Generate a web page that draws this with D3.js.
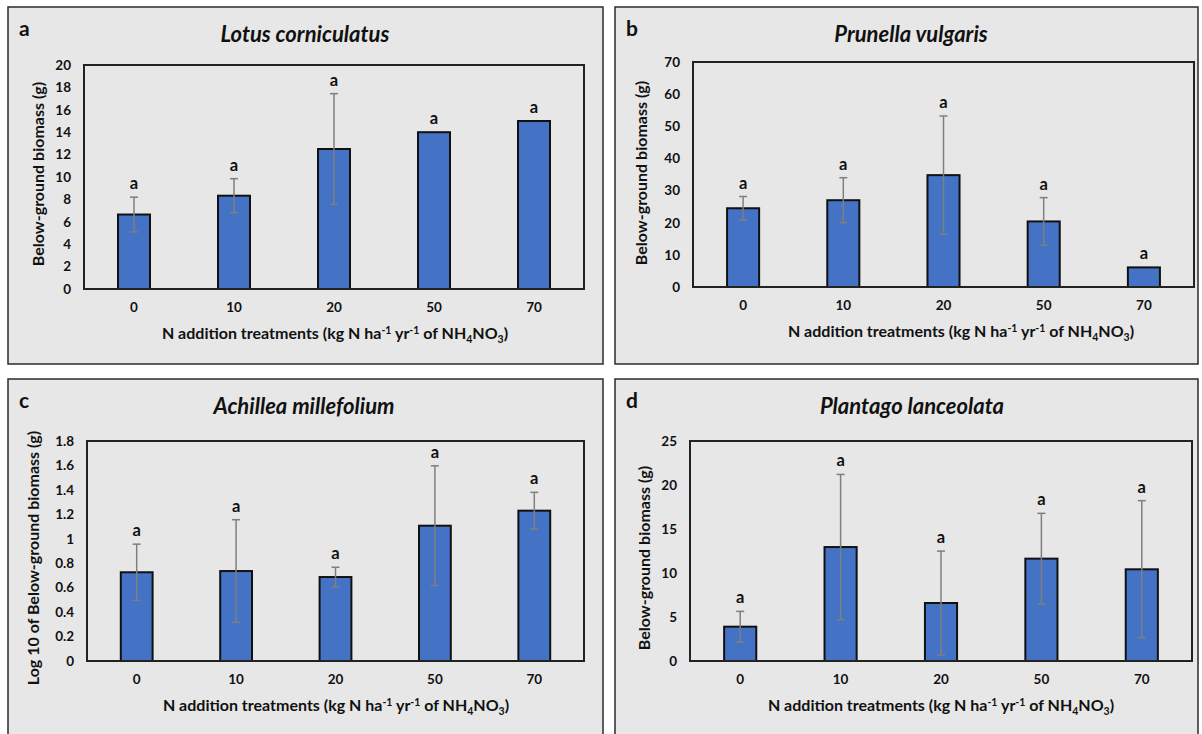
<!DOCTYPE html>
<html>
<head>
<meta charset="utf-8">
<script src="https://cdn.jsdelivr.net/npm/d3@7"></script>
<style>
  html, body { margin: 0; padding: 0; background: #ffffff; }
  svg { display: block; font-family: Lato, "Open Sans", sans-serif; }
</style>
</head>
<body>
<svg id="fig" width="1202" height="734"></svg>
<script>
// N addition treatments (kg N ha-1 yr-1)
const treatments = ["0", "10", "20", "50", "70"];

// Lotus corniculatus: below-ground biomass (g), mean and SE
const lotusMean = [6.65, 8.33, 12.5, 14.0, 15.0];
const lotusErr  = [1.55, 1.52, 4.94, 0, 0];
const lotusTicks = [0, 2, 4, 6, 8, 10, 12, 14, 16, 18, 20];

// Prunella vulgaris
const prunellaMean = [24.5, 27.0, 34.8, 20.4, 6.1];
const prunellaErr  = [3.65, 7.0, 18.4, 7.4, 0];
const prunellaTicks = [0, 10, 20, 30, 40, 50, 60, 70];

// Achillea millefolium (log10 of below-ground biomass)
const achilleaMean = [0.726, 0.736, 0.687, 1.107, 1.23];
const achilleaErr  = [0.23, 0.42, 0.08, 0.49, 0.15];
const achilleaTicks = [0, 0.2, 0.4, 0.6, 0.8, 1, 1.2, 1.4, 1.6, 1.8];

// Plantago lanceolata
const plantagoMean = [3.9, 12.95, 6.59, 11.63, 10.42];
const plantagoErr  = [1.74, 8.25, 5.9, 5.15, 7.8];
const plantagoTicks = [0, 5, 10, 15, 20, 25];

// Significance letters above each bar
const lotusLetters    = ["a", "a", "a", "a", "a"];
const prunellaLetters = ["a", "a", "a", "a", "a"];
const achilleaLetters = ["a", "a", "a", "a", "a"];
const plantagoLetters = ["a", "a", "a", "a", "a"];

const panels = [
  { tag: "a", title: "Lotus corniculatus", ylab: "Below-ground biomass (g)",
    mean: lotusMean, err: lotusErr, ticks: lotusTicks, letters: lotusLetters,
    box: [8, 7, 595, 357], plot: [84, 65, 584, 289], titleX: 305, ylabX: 44, ylabY: 174, xlabX: 335 },
  { tag: "b", title: "Prunella vulgaris", ylab: "Below-ground biomass (g)",
    mean: prunellaMean, err: prunellaErr, ticks: prunellaTicks, letters: prunellaLetters,
    box: [615, 7, 583, 357], plot: [693, 62, 1194, 287], titleX: 911, ylabX: 647, ylabY: 173, xlabX: 961 },
  { tag: "c", title: "Achillea millefolium", ylab: "Log 10 of Below-ground biomass (g)",
    mean: achilleaMean, err: achilleaErr, ticks: achilleaTicks, letters: achilleaLetters,
    box: [8, 379, 595, 370], plot: [87, 441, 584, 661], titleX: 304, ylabX: 39, ylabY: 558, xlabX: 336 },
  { tag: "d", title: "Plantago lanceolata", ylab: "Below-ground biomass (g)",
    mean: plantagoMean, err: plantagoErr, ticks: plantagoTicks, letters: plantagoLetters,
    box: [615, 379, 583, 370], plot: [690, 441, 1192, 661], titleX: 912, ylabX: 650, ylabY: 558, xlabX: 941 }
];

const svg = d3.select("#fig");
const fmt = v => String(+v.toFixed(1));

panels.forEach(p => {
  const g = svg.append("g");
  const [bx, by, bw, bh] = p.box;
  const [x0, y0, x1, y1] = p.plot;

  // panel frame
  g.append("rect").attr("x", bx).attr("y", by).attr("width", bw).attr("height", bh)
    .attr("fill", "#e7e7e7").attr("stroke", "#2b2b2b").attr("stroke-width", 1.5);

  // panel tag
  g.append("text").attr("x", bx + 11).attr("y", by + 29)
    .attr("font-size", 21).attr("font-weight", 700).attr("fill", "#111").text(p.tag);

  // species title
  g.append("text").attr("x", p.titleX).attr("y", by + 35)
    .attr("text-anchor", "middle").attr("font-size", 22).attr("font-weight", 700)
    .attr("font-style", "italic").attr("fill", "#111").text(p.title);

  const x = d3.scaleBand().domain(treatments).range([x0, x1])
    .paddingInner(0.68).paddingOuter(0.34);
  const top = p.ticks[p.ticks.length - 1];
  const y = d3.scaleLinear().domain([0, top]).range([y1, y0]);

  // y axis labels
  const ya = g.append("g").attr("transform", `translate(${x0},0)`)
    .call(d3.axisLeft(y).tickValues(p.ticks).tickSize(0).tickPadding(13).tickFormat(fmt));
  ya.select(".domain").remove();
  ya.selectAll("text").attr("font-size", 13.5).attr("font-weight", 700)
    .attr("font-family", "Lato, sans-serif").attr("fill", "#111");

  // x axis labels
  const xa = g.append("g").attr("transform", `translate(0,${y1})`)
    .call(d3.axisBottom(x).tickSize(0).tickPadding(13));
  xa.select(".domain").remove();
  xa.selectAll("text").attr("font-size", 13.5).attr("font-weight", 700)
    .attr("font-family", "Lato, sans-serif").attr("fill", "#111");

  // bars
  const rows = treatments.map((t, i) => ({ t, m: p.mean[i], e: p.err[i], l: p.letters[i] }));
  g.selectAll("rect.bar").data(rows).join("rect").attr("class", "bar")
    .attr("x", d => x(d.t)).attr("width", x.bandwidth())
    .attr("y", d => y(d.m)).attr("height", d => y(0) - y(d.m))
    .attr("fill", "#4472c4").attr("stroke", "#111").attr("stroke-width", 2);

  // error bars
  const eb = rows.filter(d => d.e > 0);
  const cx = d => x(d.t) + x.bandwidth() / 2;
  g.selectAll("line.err").data(eb).join("line").attr("class", "err")
    .attr("x1", cx).attr("x2", cx)
    .attr("y1", d => y(d.m + d.e)).attr("y2", d => y(d.m - d.e))
    .attr("stroke", "#7f7f7f").attr("stroke-width", 1.5);
  ["+", "-"].forEach(s => {
    g.selectAll(`line.cap${s === "+" ? "u" : "d"}`).data(eb).join("line")
      .attr("class", `cap${s === "+" ? "u" : "d"}`)
      .attr("x1", d => cx(d) - 4).attr("x2", d => cx(d) + 4)
      .attr("y1", d => y(s === "+" ? d.m + d.e : d.m - d.e))
      .attr("y2", d => y(s === "+" ? d.m + d.e : d.m - d.e))
      .attr("stroke", "#7f7f7f").attr("stroke-width", 1.5);
  });

  // significance letters
  g.selectAll("text.sig").data(rows).join("text").attr("class", "sig")
    .attr("x", cx).attr("y", d => y(d.m + d.e) - 8)
    .attr("text-anchor", "middle").attr("font-size", 16.5).attr("font-weight", 700)
    .attr("fill", "#111").text(d => d.l);

  // plot area border
  g.append("rect").attr("x", x0).attr("y", y0).attr("width", x1 - x0).attr("height", y1 - y0)
    .attr("fill", "none").attr("stroke", "#222").attr("stroke-width", 2);

  // y axis title
  g.append("text")
    .attr("transform", `translate(${p.ylabX},${p.ylabY}) rotate(-90)`)
    .attr("text-anchor", "middle").attr("font-size", 16).attr("font-weight", 700)
    .attr("fill", "#111").text(p.ylab);

  // x axis title with super/subscripts
  const xt = g.append("text").attr("x", p.xlabX).attr("y", y1 + 50)
    .attr("text-anchor", "middle").attr("font-size", 16).attr("font-weight", 700).attr("fill", "#111");
  const parts = [
    ["N addition treatments (kg N ha", 0], ["-1", -1], [" yr", 1], ["-1", -1],
    [" of NH", 1], ["4", 2], ["NO", -2], ["3", 2], [")", -2]
  ];
  // shift: -1 raise (super), +1 return from super, 2 lower (sub), -2 return from sub
  parts.forEach(([txt, s]) => {
    const ts = xt.append("tspan").text(txt);
    if (s === -1) ts.attr("dy", -5).attr("font-size", 10.5);
    else if (s === 1) ts.attr("dy", 5);
    else if (s === 2) ts.attr("dy", 4).attr("font-size", 10.5);
    else if (s === -2) ts.attr("dy", -4);
  });
});
</script>
</body>
</html>
